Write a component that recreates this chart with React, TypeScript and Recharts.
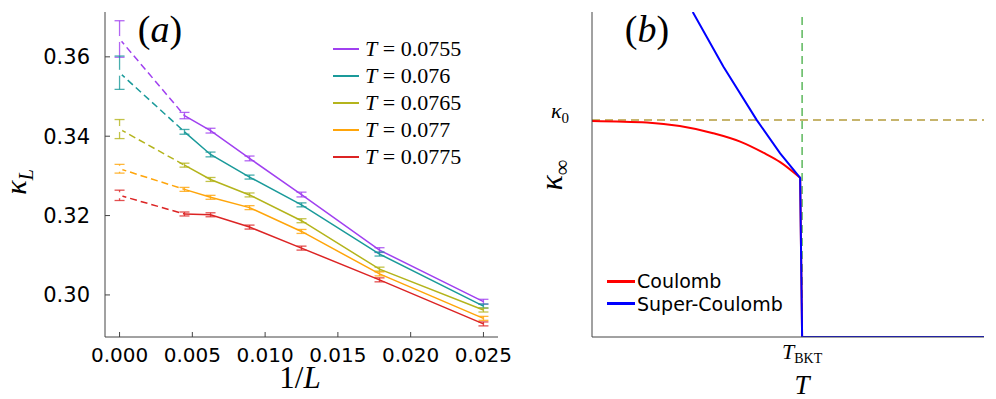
import React from "react";
import {
  ComposedChart,
  ErrorBar,
  Label,
  Legend,
  Line,
  ReferenceLine,
  XAxis,
  YAxis,
} from "recharts";

// panel (a): extrapolated kappa_L vs 1/L
const invL = [0, 0.00446, 0.00625, 0.00893, 0.0125, 0.01786, 0.025];
const temps = ["0.0755", "0.076", "0.0765", "0.077", "0.0775"];
const colors = ["#a040f0", "#1a9a9a", "#b4b41c", "#ffa50a", "#dc2424"];
const kappa = [
  [0.3645, 0.3452, 0.3414, 0.3344, 0.3253, 0.3113, 0.2983],
  [0.356, 0.3411, 0.3354, 0.3297, 0.3227, 0.3103, 0.2972],
  [0.3418, 0.3327, 0.3291, 0.3252, 0.3187, 0.3065, 0.2962],
  [0.3318, 0.3266, 0.3246, 0.322, 0.316, 0.3053, 0.2941],
  [0.3251, 0.3204, 0.3202, 0.3171, 0.3118, 0.3038, 0.2927],
];
const kappaErr = [
  [0.0046, 0.0008, 0.0006, 0.0006, 0.0006, 0.0006, 0.0006],
  [0.0042, 0.0006, 0.0006, 0.0005, 0.0005, 0.0005, 0.0005],
  [0.0024, 0.0005, 0.0005, 0.0005, 0.0005, 0.0005, 0.0005],
  [0.0011, 0.0005, 0.0005, 0.0005, 0.0005, 0.0005, 0.0005],
  [0.0013, 0.0005, 0.0005, 0.0005, 0.0005, 0.0005, 0.0005],
];
const xTicksA = [0, 0.005, 0.01, 0.015, 0.02, 0.025];
const yTicksA = [0.3, 0.32, 0.34, 0.36];

// panel (b): schematic kappa_inf vs T
const coulombT = [0, 0.14, 0.224, 0.309, 0.378, 0.437, 0.48, 0.531];
const coulombK = [0.665, 0.66, 0.649, 0.627, 0.601, 0.567, 0.538, 0.49];
const dropT = [0.531, 0.536, 1];
const dropK = [0.49, 0, 0];
const superT = [0.257, 0.335, 0.42, 0.48, 0.531, 0.536, 1];
const superK = [1.0, 0.832, 0.668, 0.565, 0.49, 0, 0];
const kappa0 = 0.668;
const tBKT = 0.536;

const serif = "'Liberation Serif', 'DejaVu Serif', serif";
const sans = "'DejaVu Sans', sans-serif";

function seriesData(i: number) {
  return invL.map((x, j) => ({ x, k: kappa[i][j], e: kappaErr[i][j] }));
}

const shown = (payload: any[]) => (payload || []).filter((p: any) => p.type !== "none");

function LegendA({ payload }: any) {
  return (
    <div style={{ fontFamily: serif, fontSize: 22, color: "#000" }}>
      {shown(payload).map((p: any) => (
        <div key={p.value} style={{ display: "flex", alignItems: "center", height: 27 }}>
          <span style={{ width: 26, height: 2, background: p.color, marginRight: 6 }} />
          <span>
            <i>T</i> = {p.value}
          </span>
        </div>
      ))}
    </div>
  );
}

function LegendB({ payload }: any) {
  return (
    <div style={{ fontFamily: sans, fontSize: 19, color: "#000" }}>
      {shown(payload).map((p: any) => (
        <div key={p.value} style={{ display: "flex", alignItems: "center", height: 22.5 }}>
          <span style={{ width: 28, height: 3, background: p.color, marginRight: 2 }} />
          <span>{p.value}</span>
        </div>
      ))}
    </div>
  );
}

function PanelA() {
  return (
    <ComposedChart width={520} height={399} margin={{ top: 12, right: 22, bottom: 32, left: 0 }}>
      <XAxis
        type="number"
        dataKey="x"
        domain={[-0.001, 0.026]}
        ticks={xTicksA}
        interval={0}
        height={30}
        tickFormatter={(v: number) => v.toFixed(3)}
        tickSize={-5}
        tickMargin={16}
        stroke="#444"
        tick={{ fill: "#000", fontSize: 20, fontFamily: sans }}
        allowDataOverflow
      >
        <Label
          content={() => (
            <text x={300} y={388} textAnchor="middle" fontFamily={serif} fontSize={31} fill="#000">
              1/<tspan fontStyle="italic">L</tspan>
            </text>
          )}
        />
      </XAxis>
      <YAxis
        type="number"
        domain={[0.2894, 0.3713]}
        ticks={yTicksA}
        interval={0}
        tickFormatter={(v: number) => v.toFixed(2)}
        width={105}
        tickSize={-5}
        tickMargin={20}
        stroke="#444"
        tick={{ fill: "#000", fontSize: 21, fontFamily: sans }}
        allowDataOverflow
      >
        <Label
          content={() => (
            <text
              x={26}
              y={182}
              transform="rotate(-90 26 182)"
              textAnchor="middle"
              fontFamily={serif}
              fontStyle="italic"
              fontSize={30}
              fill="#000"
            >
              κ
              <tspan fontSize={20} dy={7}>
                L
              </tspan>
            </text>
          )}
        />
      </YAxis>
      {temps.map((t, i) => {
        const d = seriesData(i);
        return [
          <Line
            key={`ex${i}`}
            data={d.slice(0, 1)}
            dataKey="k"
            stroke="none"
            dot={false}
            legendType="none"
            isAnimationActive={false}
          >
            <ErrorBar dataKey="e" width={5} stroke={colors[i]} strokeWidth={1.3} strokeOpacity={0.8} isAnimationActive={false} />
          </Line>,
          <Line
            key={`da${i}`}
            data={d.slice(0, 2)}
            dataKey="k"
            stroke={colors[i]}
            strokeWidth={1.5}
            strokeDasharray="7 4"
            dot={false}
            legendType="none"
            isAnimationActive={false}
          />,
          <Line
            key={`so${i}`}
            data={d.slice(1)}
            dataKey="k"
            name={t}
            stroke={colors[i]}
            strokeWidth={1.5}
            dot={false}
            isAnimationActive={false}
          >
            <ErrorBar dataKey="e" width={5} stroke={colors[i]} strokeWidth={1.3} strokeOpacity={0.8} isAnimationActive={false} />
          </Line>,
        ];
      })}
      <Legend
        layout="vertical"
        verticalAlign="middle"
        align="center"
        wrapperStyle={{ left: 333, top: 35, width: 160 }}
        content={LegendA}
      />
      <ReferenceLine
        y={0.3713}
        stroke="none"
        label={{
          content: () => (
            <text x={160} y={42} textAnchor="middle" fontFamily={serif} fontSize={38} fill="#000">
              (<tspan fontStyle="italic">a</tspan>)
            </text>
          ),
        }}
      />
    </ComposedChart>
  );
}

function PanelB() {
  const coulomb = coulombT.map((t, j) => ({ t, k: coulombK[j] }));
  const drop = dropT.map((t, j) => ({ t, k: dropK[j] }));
  const sup = superT.map((t, j) => ({ t, k: superK[j] }));
  return (
    <ComposedChart width={476} height={399} margin={{ top: 12, right: 12, bottom: 32, left: 0 }}>
      <XAxis
        type="number"
        dataKey="t"
        domain={[0, 1]}
        ticks={[tBKT]}
        interval={0}
        height={30}
        tickLine={false}
        stroke="#444"
        allowDataOverflow
        tick={(p: any) => (
          <text x={p.x} y={p.y + 14} textAnchor="middle" fontFamily={serif} fill="#000">
            <tspan fontSize={22} fontStyle="italic">
              T
            </tspan>
            <tspan fontSize={14} dy={4}>
              BKT
            </tspan>
          </text>
        )}
      >
        <Label
          content={() => (
            <text x={282} y={394} textAnchor="middle" fontFamily={serif} fontStyle="italic" fontSize={27} fill="#000">
              T
            </text>
          )}
        />
      </XAxis>
      <YAxis
        type="number"
        domain={[0, 1]}
        ticks={[kappa0]}
        interval={0}
        width={72}
        tickLine={false}
        stroke="#444"
        allowDataOverflow
        tick={(p: any) => (
          <text x={p.x - 15} y={p.y - 2} textAnchor="end" fontFamily={serif} fill="#000">
            <tspan fontSize={22} fontStyle="italic">
              κ
            </tspan>
            <tspan fontSize={15} dy={5}>
              0
            </tspan>
          </text>
        )}
      >
        <Label
          content={() => (
            <text
              x={42}
              y={175}
              transform="rotate(-90 42 175)"
              textAnchor="middle"
              fontFamily={serif}
              fontStyle="italic"
              fontSize={32}
              fill="#000"
            >
              κ
              <tspan fontSize={22} dy={7} fontStyle="normal">
                ∞
              </tspan>
            </text>
          )}
        />
      </YAxis>
      <ReferenceLine y={kappa0} stroke="#b49c3c" strokeWidth={1.5} strokeDasharray="8 5" />
      <ReferenceLine x={tBKT} stroke="#5cb85c" strokeWidth={1.5} strokeDasharray="8 5" />
      <Line
        data={coulomb}
        dataKey="k"
        name="Coulomb"
        type="monotone"
        stroke="#ff0000"
        strokeWidth={2}
        dot={false}
        isAnimationActive={false}
      />
      <Line
        data={drop}
        dataKey="k"
        stroke="#ff0000"
        strokeWidth={2}
        dot={false}
        legendType="none"
        isAnimationActive={false}
      />
      <Line
        data={sup}
        dataKey="k"
        name="Super-Coulomb"
        stroke="#0000ff"
        strokeWidth={2}
        dot={false}
        isAnimationActive={false}
      />
      <Legend
        layout="vertical"
        verticalAlign="middle"
        align="center"
        wrapperStyle={{ left: 87, top: 270, width: 220 }}
        content={LegendB}
      />
      <ReferenceLine
        y={1}
        stroke="none"
        label={{
          content: () => (
            <text x={127} y={42} textAnchor="middle" fontFamily={serif} fontSize={38} fill="#000">
              (<tspan fontStyle="italic">b</tspan>)
            </text>
          ),
        }}
      />
    </ComposedChart>
  );
}

export default function App() {
  return (
    <div style={{ position: "absolute", left: 0, top: 0, width: 996, height: 399, background: "#fff", display: "flex" }}>
      <PanelA />
      <PanelB />
    </div>
  );
}
